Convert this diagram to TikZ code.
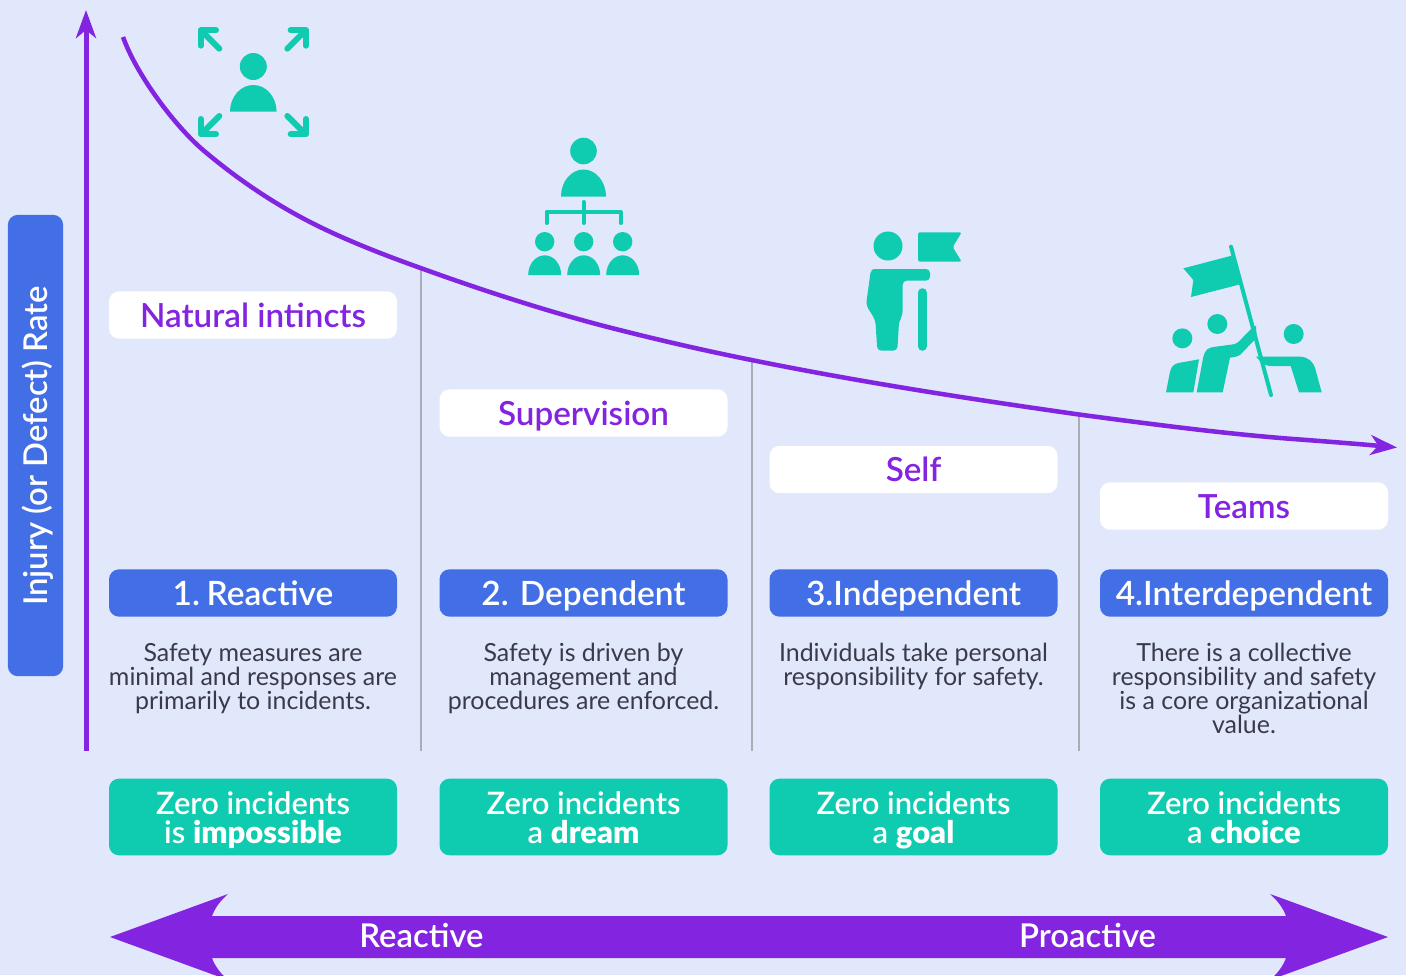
\documentclass[tikz,border=0pt]{standalone}
\usepackage{fontspec}
\setmainfont{Lato}
\newfontfamily\medfont{Lato Semibold}
\newfontfamily\heavyfont{Lato Black}
\usetikzlibrary{arrows.meta}
\definecolor{bgc}{HTML}{E1E8FB}
\definecolor{purp}{HTML}{8324E0}
\definecolor{blu}{HTML}{426EE6}
\definecolor{teal}{HTML}{0FCBB0}
\definecolor{divc}{HTML}{A9ADB8}
\definecolor{txt}{HTML}{3A3A4A}
\newcommand{\st}{\rule[-.2em]{0pt}{1.15em}}
\newcommand{\sta}{\rule{0pt}{.96em}}
\newcommand{\stt}{\rule[-.2em]{0pt}{.7em}}
\tikzset{
  box/.style={rounded corners=7.5pt,minimum width=216pt,minimum height=35.5pt,inner sep=0pt,align=center},
  levelbox/.style={box,fill=white,text=purp,font=\medfont\fontsize{24.9}{26}\selectfont},
  stagebox/.style={box,fill=blu,text=white,font=\medfont\fontsize{25.1}{26}\selectfont},
  goalbox/.style={box,fill=teal,text=white,minimum height=57.5pt,font=\medfont\fontsize{23.2}{21.8}\selectfont},
  body/.style={anchor=north,inner sep=0pt,align=center,text=txt,font=\fontsize{18.7}{18}\selectfont},
  divider/.style={draw=divc,line width=1.5pt},
  axis/.style={draw=purp,line width=3.75pt,-{Stealth[length=21pt,width=15pt,inset=6pt]}},
  curveline/.style={draw=purp,line width=3.4pt,-{Stealth[length=20pt,width=15pt,inset=6pt]}},
  icon/.style={fill=teal,draw=none},
  iconline/.style={draw=teal,line cap=round,line join=round},
  barlabel/.style={text=white,font=\medfont\fontsize{24.6}{24}\selectfont},
}
\begin{document}
\begin{tikzpicture}[x=0.75pt,y=-0.75pt]
\path[use as bounding box,fill=bgc] (0,0) rectangle (1406,975);

% big double arrow
\begin{scope}
\clip (0,0) rectangle (1406,975);
\fill[purp] (110,937) -- (228,894) .. controls (220,901) and (215,908) .. (212,916) -- (1286,916)
  .. controls (1283,908) and (1278,901) .. (1270,894) -- (1388,937) -- (1270,980)
  .. controls (1278,973) and (1283,966) .. (1286,958) -- (212,958)
  .. controls (215,966) and (220,973) .. (228,980) -- cycle;
\end{scope}
\node[barlabel] (reactive) at (421.5,935) {\st Reactive};
\node[barlabel] (proactive) at (1087.5,935) {\st Proactive};

% left bar
\node[fill=blu,rounded corners=7.5pt,minimum width=41.5pt,minimum height=346pt,inner sep=0pt] (ybar) at (35.5,445.5) {};
\node[rotate=90,barlabel] (ylabel) at (35,446) {\st Injury (or Defect) Rate};

% axis
\coordinate (axisbot) at (86,751);
\coordinate (axistop) at (86,10);
\draw[axis] (axisbot) -- (axistop);

% dividers
\coordinate (d1t) at (420.5,268); \coordinate (d1b) at (420.5,751);
\coordinate (d2t) at (751.5,360); \coordinate (d2b) at (751.5,751);
\coordinate (d3t) at (1079,415);  \coordinate (d3b) at (1079,751);
\draw[divider] (d1t) -- (d1b);
\draw[divider] (d2t) -- (d2b);
\draw[divider] (d3t) -- (d3b);

% curve
\coordinate (c0) at (123,37);
\coordinate (c1) at (203,150);
\coordinate (c2) at (320,227);
\coordinate (c3) at (420.5,268);
\coordinate (c4) at (600,325);
\coordinate (c5) at (751.5,360);
\coordinate (c6) at (1079,414.5);
\coordinate (c7) at (1300,439.5);
\coordinate (c8) at (1397,447.5);
\draw[curveline] (c0) .. controls (137,76) and (176,127) .. (c1)
  .. controls (242,183) and (281,208) .. (c2)
  .. controls (353,243) and (387,256) .. (c3)
  .. controls (480,289.5) and (540,309) .. (c4)
  .. controls (650,338) and (701.5,350) .. (c5)
  .. controls (860,382) and (970,399) .. (c6)
  .. controls (1150,424) and (1230,434.5) .. (c7)
  .. controls (1340,442.5) and (1370,445) .. (c8);

% level boxes
\node[levelbox] (l1) at (253,315) {\st Natural intincts};
\node[levelbox] (l2) at (583.5,413) {\st Supervision};
\node[levelbox] (l3) at (913.5,469.5) {\st Self};
\node[levelbox] (l4) at (1244,506) {\st Teams};

% stage boxes
\node[stagebox] (s1) at (253,593) {\st 1.\hspace{0.2em}Reactive};
\node[stagebox] (s2) at (583.5,593) {\st 2. Dependent};
\node[stagebox] (s3) at (913.5,593) {\st 3.Independent};
\node[stagebox] (s4) at (1244,593) {\st 4.Interdependent};

% descriptions
\node[body] (b1) at (253,643) {Safety measures are\\minimal and responses are\\primarily to incidents.};
\node[body] (b2) at (583.5,642.5) {Safety is driven by\\management and\\procedures are enforced.};
\node[body] (b3) at (913.5,642.5) {Individuals take personal\\responsibility for safety.};
\node[body] (b4) at (1244,642.5) {There is a collective\\responsibility and safety\\is a core organizational\\value.};

% goals
\node[goalbox] (g1) at (253,817) {\sta Zero incidents\\\stt is {\heavyfont impossible}};
\node[goalbox] (g2) at (583.5,817) {\sta Zero incidents\\\stt a {\heavyfont dream}};
\node[goalbox] (g3) at (913.5,817) {\sta Zero incidents\\\stt a {\heavyfont goal}};
\node[goalbox] (g4) at (1244,817) {\sta Zero incidents\\\stt a {\heavyfont choice}};

% icon 1: person with arrows
\fill[icon] (253.3,66.5) circle[radius=13.5];
\fill[icon] (230,111.7) arc[start angle=180,end angle=360,x radius=23.3,y radius=26.7] -- cycle;
\begin{scope}[shift={(60,0)},x=0.25pt,y=-0.25pt]
 \draw[iconline,line width=4.5pt] (478,146) -- (430,98);
 \draw[iconline,line width=4.5pt] (422,137) -- (422,91) -- (468,91);
 \draw[iconline,line width=4.5pt] (682,146) -- (730,98);
 \draw[iconline,line width=4.5pt] (692,91) -- (738,91) -- (738,137);
 \draw[iconline,line width=4.5pt] (478,348) -- (430,396);
 \draw[iconline,line width=4.5pt] (422,357) -- (422,403) -- (468,403);
 \draw[iconline,line width=4.5pt] (682,348) -- (730,396);
 \draw[iconline,line width=4.5pt] (738,357) -- (738,403) -- (692,403);
\end{scope}

% icon 2: hierarchy
\fill[icon] (583.5,151) circle[radius=13.3];
\fill[icon] (561,196.5) arc[start angle=180,end angle=360,x radius=22.5,y radius=27] -- cycle;
\draw[iconline,line width=3pt] (583.5,202) -- (583.5,223);
\draw[iconline,line width=3pt] (546.5,223) -- (546.5,212) -- (620.5,212) -- (620.5,223);
\foreach \cx in {544.7,583.7,622.7}{
  \fill[icon] (\cx,241.7) circle[radius=9.7];
  \fill[icon] (\cx-16.5,275) arc[start angle=180,end angle=360,x radius=16.5,y radius=19.7] -- cycle;
}

% icon 3: person with flag
\begin{scope}[shift={(840,220)},x=0.25pt,y=-0.25pt]
 \fill[icon] (144,78) circle[radius=43.5];
 \fill[icon,rounded corners=1.5pt] (234,37) -- (365,37) -- (338,81) -- (365,125) -- (234,125) -- cycle;
 \fill[icon,rounded corners=3pt] (100,147) -- (270,147) -- (270,182) -- (188,182) -- (188,285) -- (177,305) -- (172,392) -- (112,392) -- (106,300) -- (78,255) -- (93,147) -- cycle;
 \draw[iconline,line width=6.75pt] (247,218) -- (247,379);
\end{scope}

% icon 4: team with flag
\begin{scope}[shift={(1150,235)},x=0.25pt,y=-0.25pt]
 \draw[iconline,line width=3pt] (243,35) -- (363,480);
 \fill[icon] (100,100) -- (245,62) -- (270,148) -- (123,186) -- (130,135) -- cycle;
 \fill[icon] (97,310) circle[radius=30];
 \fill[icon] (202,267) circle[radius=30];
 \fill[icon] (431,297) circle[radius=30];
 \fill[icon] (48,472) -- (60,410) .. controls (64,395) and (70,388) .. (85,384) -- (147,373) -- (130,472) -- cycle;
 \fill[icon] (140,472) -- (160,365) .. controls (165,345) and (175,338) .. (190,336) -- (250,328)
   .. controls (258,326) and (262,324) .. (266,320) -- (305,280) -- (318,272) -- (320,308) -- (272,358)
   .. controls (265,364) and (255,366) .. (240,368) -- (218,472) -- cycle;
 \fill[icon] (318,365) -- (450,365) .. controls (475,366) and (490,380) .. (496,402) -- (515,472) -- (447,472) -- (422,393) -- (360,393) .. controls (345,392) and (335,385) .. cycle;
\end{scope}
\end{tikzpicture}
\end{document}
